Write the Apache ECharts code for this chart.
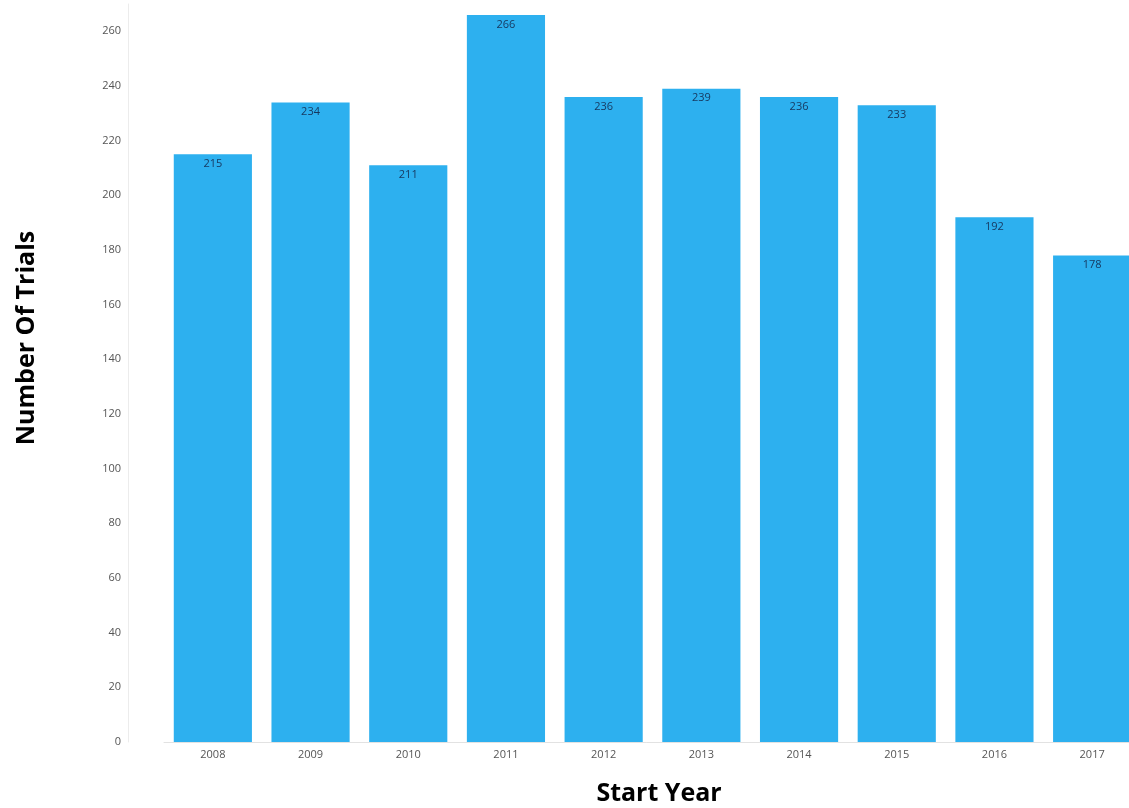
<!DOCTYPE html>
<html>
<head>
<meta charset="utf-8">
<script src="https://cdn.jsdelivr.net/npm/echarts@6/dist/echarts.min.js"></script>
<style>
  html, body { margin: 0; padding: 0; background: #ffffff; }
  #chart { width: 1129px; height: 808px; }
</style>
</head>
<body>
<div id="chart"></div>
<script>
// Trials started per year
const years = ['2008', '2009', '2010', '2011', '2012', '2013', '2014', '2015', '2016', '2017'];
const trials = [215, 234, 211, 266, 236, 239, 236, 233, 192, 178];
const yTitle = 'Number Of Trials';
const xTitle = 'Start Year';

const chart = echarts.init(document.getElementById('chart'));
chart.setOption({
  backgroundColor: '#ffffff',
  animation: false,
  grid: {
    left: 164, width: 977, top: 4, bottom: 66,
    containLabel: false,
    outerBoundsMode: 'none'
  },
  xAxis: {
    type: 'category',
    data: years,
    axisLine: { show: true, lineStyle: { color: '#e2e2e2', width: 1 } },
    axisTick: { show: false },
    axisLabel: { color: '#555', fontSize: 11, fontFamily: 'Open Sans', margin: 7 }
  },
  yAxis: {
    type: 'value',
    min: 0,
    max: 270,
    interval: 20,
    offset: 36,
    axisLine: { show: true, lineStyle: { color: '#ececec', width: 1 } },
    axisTick: { show: false },
    splitLine: { show: false },
    axisLabel: { color: '#555', fontSize: 11, fontFamily: 'Open Sans', margin: 7, showMaxLabel: false }
  },
  graphic: [
    {
      type: 'text',
      x: 27, y: 338,
      rotation: Math.PI / 2,
      style: {
        text: yTitle,
        font: 'bold 25px "Open Sans", "Liberation Sans", sans-serif',
        fill: '#000',
        align: 'center',
        verticalAlign: 'middle'
      }
    },
    {
      type: 'text',
      x: 659, y: 794,
      style: {
        text: xTitle,
        font: 'bold 25px "Open Sans", "Liberation Sans", sans-serif',
        fill: '#000',
        align: 'center',
        verticalAlign: 'middle'
      }
    }
  ],
  series: [{
    type: 'bar',
    data: trials,
    barWidth: '80%',
    itemStyle: { color: '#2db0ef' },
    label: {
      show: true,
      position: 'insideTop',
      distance: 4,
      color: '#17375e',
      fontSize: 11,
      fontFamily: 'Open Sans'
    }
  }]
});
</script>
</body>
</html>
